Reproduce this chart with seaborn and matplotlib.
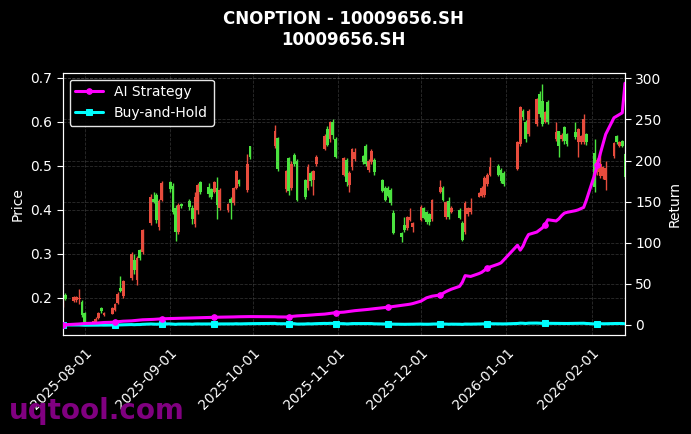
import numpy as np
import pandas as pd
import matplotlib
matplotlib.use("Agg")
import matplotlib.pyplot as plt
import matplotlib.dates as mdates
import seaborn as sns

title_text = "CNOPTION - 10009656.SH\n10009656.SH"
holidays = ["2025-10-01", "2025-10-02", "2025-10-03", "2025-10-06", "2025-10-07",
            "2025-10-08", "2026-01-01", "2026-01-02"]

open_ = [0.185, 0.207, 0.193, 0.195, 0.196, 0.190, 0.165, 0.145, 0.143, 0.154,
         0.177, 0.160, 0.164, 0.172, 0.187, 0.223, 0.203, 0.245, 0.285, 0.240,
         0.308, 0.305, 0.370, 0.425, 0.434, 0.360, 0.422, 0.462, 0.455, 0.405,
         0.350, 0.412, 0.420, 0.405, 0.368, 0.400, 0.462, 0.452, 0.447, 0.440,
         0.450, 0.405, 0.400, 0.425, 0.415, 0.450, 0.468, 0.445, 0.544, 0.545,
         0.562, 0.447, 0.517, 0.450, 0.525, 0.510, 0.468, 0.450, 0.484, 0.468,
         0.503, 0.537, 0.583, 0.560, 0.600, 0.560, 0.480, 0.514, 0.457, 0.497,
         0.515, 0.522, 0.544, 0.490, 0.508, 0.514, 0.468, 0.450, 0.450, 0.445,
         0.393, 0.348, 0.366, 0.358, 0.377, 0.361, 0.377, 0.404, 0.395, 0.390,
         0.378, 0.440, 0.450, 0.384, 0.420, 0.395, 0.400, 0.370, 0.350, 0.390,
         0.394, 0.430, 0.432, 0.434, 0.458, 0.480, 0.500, 0.490, 0.484, 0.492,
         0.550, 0.625, 0.600, 0.572, 0.595, 0.663, 0.647, 0.600, 0.645, 0.560,
         0.578, 0.560, 0.587, 0.572, 0.576, 0.553, 0.553, 0.555, 0.572, 0.530,
         0.485, 0.476, 0.476, 0.468, 0.522, 0.567, 0.545, 0.556, 0.526]
high = [0.200, 0.210, 0.205, 0.204, 0.220, 0.195, 0.168, 0.148, 0.155, 0.168,
        0.180, 0.168, 0.178, 0.188, 0.212, 0.250, 0.240, 0.305, 0.300, 0.295,
        0.310, 0.356, 0.435, 0.440, 0.437, 0.425, 0.465, 0.465, 0.460, 0.410,
        0.415, 0.415, 0.425, 0.410, 0.440, 0.460, 0.465, 0.460, 0.450, 0.466,
        0.475, 0.450, 0.416, 0.428, 0.452, 0.490, 0.470, 0.526, 0.546, 0.592,
        0.565, 0.490, 0.520, 0.510, 0.530, 0.515, 0.470, 0.505, 0.487, 0.490,
        0.525, 0.572, 0.590, 0.602, 0.606, 0.565, 0.520, 0.517, 0.487, 0.540,
        0.540, 0.525, 0.550, 0.515, 0.537, 0.517, 0.470, 0.455, 0.453, 0.450,
        0.400, 0.350, 0.383, 0.385, 0.404, 0.372, 0.410, 0.407, 0.398, 0.393,
        0.425, 0.468, 0.455, 0.420, 0.430, 0.408, 0.405, 0.375, 0.420, 0.407,
        0.427, 0.441, 0.453, 0.476, 0.484, 0.521, 0.503, 0.495, 0.487, 0.556,
        0.636, 0.630, 0.603, 0.628, 0.655, 0.670, 0.686, 0.625, 0.650, 0.600,
        0.580, 0.575, 0.590, 0.575, 0.600, 0.586, 0.570, 0.617, 0.575, 0.560,
        0.518, 0.530, 0.500, 0.510, 0.553, 0.570, 0.556, 0.558, 0.530]
low = [0.180, 0.194, 0.190, 0.190, 0.185, 0.155, 0.140, 0.142, 0.140, 0.152,
       0.165, 0.158, 0.162, 0.170, 0.185, 0.212, 0.200, 0.240, 0.255, 0.228,
       0.285, 0.300, 0.365, 0.415, 0.370, 0.355, 0.420, 0.440, 0.390, 0.330,
       0.345, 0.405, 0.400, 0.368, 0.360, 0.390, 0.435, 0.430, 0.425, 0.437,
       0.380, 0.400, 0.395, 0.380, 0.410, 0.447, 0.455, 0.440, 0.515, 0.540,
       0.488, 0.440, 0.434, 0.445, 0.500, 0.420, 0.425, 0.445, 0.455, 0.434,
       0.500, 0.535, 0.545, 0.555, 0.560, 0.517, 0.476, 0.455, 0.440, 0.490,
       0.510, 0.505, 0.500, 0.485, 0.505, 0.480, 0.440, 0.420, 0.428, 0.410,
       0.345, 0.326, 0.350, 0.355, 0.374, 0.349, 0.374, 0.378, 0.368, 0.365,
       0.375, 0.437, 0.420, 0.380, 0.378, 0.392, 0.378, 0.328, 0.345, 0.385,
       0.390, 0.428, 0.430, 0.430, 0.455, 0.477, 0.477, 0.460, 0.454, 0.490,
       0.545, 0.605, 0.555, 0.568, 0.590, 0.612, 0.590, 0.597, 0.595, 0.557,
       0.519, 0.557, 0.550, 0.545, 0.560, 0.519, 0.550, 0.550, 0.548, 0.440,
       0.480, 0.472, 0.470, 0.445, 0.518, 0.550, 0.542, 0.543, 0.470]
close = [0.198, 0.196, 0.202, 0.201, 0.200, 0.160, 0.145, 0.146, 0.152, 0.166,
         0.170, 0.166, 0.176, 0.186, 0.209, 0.215, 0.238, 0.300, 0.262, 0.290,
         0.290, 0.354, 0.430, 0.418, 0.377, 0.420, 0.460, 0.447, 0.395, 0.350,
         0.410, 0.408, 0.407, 0.378, 0.430, 0.457, 0.440, 0.435, 0.430, 0.462,
         0.410, 0.445, 0.413, 0.415, 0.450, 0.487, 0.458, 0.503, 0.520, 0.578,
         0.492, 0.487, 0.442, 0.503, 0.505, 0.423, 0.430, 0.498, 0.465, 0.489,
         0.521, 0.567, 0.547, 0.600, 0.570, 0.520, 0.517, 0.462, 0.484, 0.537,
         0.532, 0.508, 0.505, 0.510, 0.533, 0.485, 0.442, 0.423, 0.432, 0.416,
         0.348, 0.338, 0.355, 0.383, 0.383, 0.370, 0.406, 0.382, 0.373, 0.372,
         0.422, 0.452, 0.423, 0.418, 0.383, 0.405, 0.382, 0.332, 0.415, 0.404,
         0.404, 0.439, 0.450, 0.473, 0.480, 0.498, 0.480, 0.465, 0.458, 0.553,
         0.633, 0.610, 0.560, 0.624, 0.652, 0.618, 0.595, 0.622, 0.600, 0.576,
         0.545, 0.571, 0.556, 0.550, 0.565, 0.583, 0.567, 0.606, 0.553, 0.452,
         0.514, 0.503, 0.498, 0.496, 0.551, 0.553, 0.553, 0.546, 0.474]

ai_strategy = [0.0, 0.3, 0.8, 1.0, 1.2, 1.5, 1.8, 2.0, 2.2, 2.5,
               2.7, 3.0, 3.3, 3.6, 4.0, 4.3, 4.6, 5.0, 5.3, 5.6,
               6.0, 6.3, 6.6, 6.8, 7.0, 7.2, 7.5, 7.7, 7.9, 8.0,
               8.2, 8.3, 8.5, 8.6, 8.8, 8.9, 9.0, 9.1, 9.2, 9.3,
               9.4, 9.5, 9.6, 9.7, 9.8, 9.9, 10.0, 10.1, 10.2, 10.0,
               9.8, 9.7, 10.0, 10.3, 10.6, 11.0, 11.5, 11.8, 12.0, 12.3,
               12.6, 13.2, 13.6, 14.0, 14.5, 15.0, 15.6, 16.0, 16.5, 17.0,
               17.4, 18.3, 18.7, 19.0, 19.4, 19.8, 20.8, 21.2, 21.6, 22.0,
               22.5, 23.8, 24.3, 24.8, 25.3, 26.0, 29.0, 31.0, 33.0, 34.0,
               35.0, 36.5, 38.5, 40.5, 42.0, 43.5, 47.0, 52.0, 60.0, 59.5,
               59.0, 62.5, 64.0, 66.5, 69.0, 70.5, 74.0, 75.5, 79.0, 97.0,
               91.0, 96.0, 104.0, 110.0, 113.0, 115.5, 118.0, 122.0, 128.0, 126.5,
               129.0, 133.0, 136.0, 137.0, 139.0, 140.0, 141.5, 143.0, 152.0, 183.0,
               195.0, 208.0, 220.0, 232.0, 252.0, 254.0, 256.0, 258.0, 294.0]
buy_hold = [0.0, 0.0, 0.0, 0.0, 0.0, -0.2, -0.3, -0.3, -0.2, -0.2,
            -0.1, -0.2, -0.1, -0.1, 0.1, 0.1, 0.2, 0.5, 0.3, 0.5,
            0.5, 0.8, 1.2, 1.1, 0.9, 1.1, 1.3, 1.3, 1.0, 0.8,
            1.1, 1.1, 1.1, 0.9, 1.2, 1.3, 1.2, 1.2, 1.2, 1.3,
            1.1, 1.2, 1.1, 1.1, 1.3, 1.5, 1.3, 1.5, 1.6, 1.9,
            1.5, 1.5, 1.2, 1.5, 1.6, 1.1, 1.2, 1.5, 1.3, 1.5,
            1.6, 1.9, 1.8, 2.0, 1.9, 1.6, 1.6, 1.3, 1.4, 1.7,
            1.7, 1.6, 1.6, 1.6, 1.7, 1.4, 1.2, 1.1, 1.2, 1.1,
            0.8, 0.7, 0.8, 0.9, 0.9, 0.9, 1.1, 0.9, 0.9, 0.9,
            1.1, 1.3, 1.1, 1.1, 0.9, 1.0, 0.9, 0.7, 1.1, 1.0,
            1.0, 1.2, 1.3, 1.4, 1.4, 1.5, 1.4, 1.3, 1.3, 1.8,
            2.2, 2.1, 1.8, 2.2, 2.3, 2.1, 2.0, 2.1, 2.0, 1.9,
            1.8, 1.9, 1.8, 1.8, 1.9, 1.9, 1.9, 2.1, 1.8, 1.3,
            1.6, 1.5, 1.5, 1.5, 1.8, 1.8, 1.8, 1.8, 1.4]

# trading calendar
dates = pd.bdate_range("2025-07-24", "2026-02-13")
dates = dates[~dates.isin(pd.to_datetime(holidays))]

UP = "#e84c3d"
DOWN = "#4be33f"

plt.style.use("dark_background")
sns.set_style("dark", {"axes.facecolor": "black", "figure.facecolor": "black",
                       "axes.edgecolor": "white", "text.color": "white",
                       "xtick.color": "white", "ytick.color": "white",
                       "axes.labelcolor": "white"})
plt.rcParams["font.family"] = ["DejaVu Sans"]

fig = plt.figure(figsize=(6.91, 4.34), dpi=100)
ax = fig.add_axes([0.0906, 0.2281, 0.9045 - 0.0906, 0.8325 - 0.2281])
ax.set_facecolor("black")

o = np.array(open_)
c = np.array(close)
h = np.array(high)
l = np.array(low)
x = mdates.date2num(dates.to_pydatetime())
colors = [UP if cc >= oo else DOWN for oo, cc in zip(o, c)]
ax.vlines(x, l, h, colors=colors, linewidth=1.0, zorder=2)
body_bottom = np.minimum(o, c)
body_h = np.maximum(np.abs(c - o), 0.002)
ax.bar(x, body_h, bottom=body_bottom, width=1.0, color=colors, linewidth=0, zorder=3)

ax.set_ylim(0.1152, 0.7116)
ax.set_xlim(x[0], x[-1])
ax.set_ylabel("Price", color="white", fontsize=10)
ax.grid(True, linestyle="--", linewidth=0.6, color="gray", alpha=0.35)

ax2 = ax.twinx()
df = pd.DataFrame({"date": x, "ai": ai_strategy, "bh": buy_hold})
sns.lineplot(data=df, x="date", y="ai", ax=ax2, color="#ff00ff", linewidth=2.2,
             marker="o", markersize=4, markevery=13, markeredgecolor="#ff00ff",
             label="AI Strategy", zorder=5)
sns.lineplot(data=df, x="date", y="bh", ax=ax2, color="#00ffff", linewidth=2.2,
             marker="s", markersize=4, markevery=13, markeredgecolor="#00ffff",
             label="Buy-and-Hold", zorder=4)
ax2.set_ylim(-12.2, 306.8)
ax2.set_xlim(x[0], x[-1])
ax2.set_ylabel("Return", color="white", fontsize=10)
ax2.set_xlabel("")
ax2.grid(True, linestyle="--", linewidth=0.6, color="gray", alpha=0.35)

ax.xaxis.set_major_locator(mdates.MonthLocator())
ax.xaxis.set_major_formatter(mdates.DateFormatter("%Y-%m-%d"))
for lab in ax.get_xticklabels():
    lab.set_rotation(45)
    lab.set_ha("right")
    lab.set_rotation_mode("anchor")
ax.tick_params(axis="both", colors="white", labelsize=10, length=4)
ax2.tick_params(axis="y", colors="white", labelsize=10, length=4)
for sp in list(ax.spines.values()) + list(ax2.spines.values()):
    sp.set_color("white")

leg = ax2.legend(loc="upper left", fontsize=10, facecolor="black",
                 edgecolor="white", framealpha=0.9)
for t in leg.get_texts():
    t.set_color("white")

ax.set_title(title_text, fontsize=12, fontweight="bold", color="white", pad=20)

fig.text(0.013, 0.021, "uqtool.com", color="#800080", fontsize=20,
         fontweight="bold", va="bottom", ha="left")

fig.savefig("out.png", dpi=100, facecolor="black")
